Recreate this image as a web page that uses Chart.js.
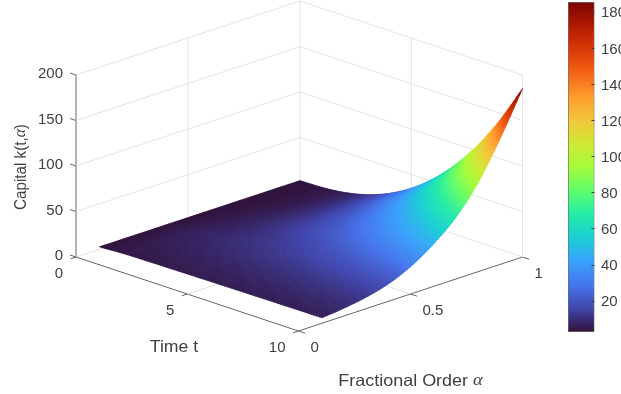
<!DOCTYPE html>
<html><head><meta charset="utf-8">
<script src="https://cdn.jsdelivr.net/npm/chart.js@4"></script>
<style>html,body{margin:0;padding:0;background:#fff;width:621px;height:394px;overflow:hidden}
canvas{position:absolute;top:0;filter:blur(0.35px)}
#main{left:0}#bar{left:541px}</style></head>
<body><canvas id="main" width="621" height="394"></canvas><canvas id="bar" width="80" height="394"></canvas>
<script>
const timeValues = [0,1,2,3,4,5,6,7,8,9,10];
const alphaValues = [0.105,0.2,0.3,0.4,0.5,0.6,0.7,0.8,0.9,1.0];
const capital01 = [2.6,3.95,4.39,4.70,4.96,5.18,5.37,5.55,5.71,5.86,6.0];
const capital02 = [2.6,4.69,5.46,6.03,6.51,6.92,7.29,7.63,7.93,8.23,8.5];
const capital03 = [2.6,5.39,6.68,7.71,8.58,9.36,10.07,10.74,11.35,11.95,12.5];
const capital04 = [2.6,5.52,7.5,9.24,10.85,12.36,13.78,15.15,16.47,17.75,19];
const capital05 = [2.6,4.76,7.26,9.89,12.6,15.4,18.2,21.1,24.0,27.0,30];
const capital06 = [2.6,4.34,7.16,10.6,14.6,19.05,23.8,29,34.4,40.1,46];
const capital07 = [2.6,3.9,6.8,10.9,16.2,22.4,29.6,37.7,46.6,56.4,67];
const capital08 = [2.6,3.5,6.4,11.1,17.7,26.2,36.6,48.9,63,79,97];
const capital09 = [2.6,3.4,6.2,11.6,19.8,31,45.5,63.3,84.5,109.4,138];
const capital10 = [2.6,3.2,5.9,11.6,21.1,34.9,53.5,77.4,107,142.8,185];
const capitalRows = [capital01,capital02,capital03,capital04,capital05,capital06,capital07,capital08,capital09,capital10];
const tTicks = [0,5,10];
const alphaTicks = [0,0.5,1];
const kTicks = [0,50,100,150,200];
const colorTicks = [20,40,60,80,100,120,140,160,180];
const colorMin = 2.65, colorMax = 185.4;
const turboStops = ['#30123b','#4145ab','#4675ed','#39a2fc','#1bcfd4','#24eca6','#61fc6c','#a4fc3b','#d1e834','#f3c63a','#fe9b2d','#f36315','#d93806','#b11901','#7a0402'];

// orthographic view of (t, alpha, k)
function project(t,a,k){return {x:76+22.25*t+224*a, y:257+7.4*t-74*a-0.91*k};}
const turboRGB=turboStops.map(h=>[1,3,5].map(i=>parseInt(h.substr(i,2),16)));
function turbo(u){
  u=Math.max(0,Math.min(1,u))*(turboRGB.length-1);
  const i=Math.min(Math.floor(u),turboRGB.length-2),f=u-i,a=turboRGB[i],b=turboRGB[i+1];
  return `rgb(${[0,1,2].map(c=>Math.round(a[c]+(b[c]-a[c])*f)).join(',')})`;
}
const toU=v=>(v-colorMin)/(colorMax-colorMin);
const GRID='#e3e3e3', AXIS='#666666', TXT='#404040';
const ds=[];
function seg(a,b,color,w){ds.push({data:[project(...a),project(...b)],showLine:true,pointRadius:0,borderColor:color,borderWidth:w||1,fill:false});}
// walls and floor
kTicks.forEach(k=>{seg([0,0,k],[0,1,k],GRID);seg([0,1,k],[10,1,k],GRID);});
alphaTicks.slice(1).forEach(a=>seg([0,a,0],[0,a,200],GRID));
tTicks.slice(1).forEach(t=>seg([t,1,0],[t,1,200],GRID));
tTicks.slice(1,2).forEach(t=>seg([t,0,0],[t,1,0],GRID));
alphaTicks.slice(1,2).forEach(a=>seg([0,a,0],[10,a,0],GRID));
// axes
seg([0,0,0],[10,0,0],AXIS);seg([10,0,0],[10,1,0],AXIS);seg([0,0,0],[0,0,200],AXIS);
kTicks.forEach(k=>seg([0,0,k],[-0.27,0,k],AXIS));
tTicks.forEach(t=>seg([t,0,0],[t,-0.024,0],AXIS));
alphaTicks.forEach(a=>seg([10,a,0],[10.3,a,0],AXIS));
// surface rows
alphaValues.forEach((a,i)=>ds.push({data:timeValues.map((t,j)=>project(t,a,capitalRows[i][j])),showLine:false,pointRadius:0}));

// smooth shading of the mesh when it is painted (like MATLAB's interpolated shading)
function hermite(arr,i,u){
  const n=arr.length,p0=arr[i],p1=arr[Math.min(i+1,n-1)];
  const m0=i>0?(p1-arr[i-1])/2:(p1-p0),m1=i+2<n?(arr[i+2]-p0)/2:(p1-p0);
  const u2=u*u,u3=u2*u;
  return (2*u3-3*u2+1)*p0+(u3-2*u2+u)*m0+(-2*u3+3*u2)*p1+(u3-u2)*m1;
}
const SUB=8;
function resample(arr){const out=[];for(let i=0;i<arr.length-1;i++)for(let s=0;s<SUB;s++)out.push(hermite(arr,i,s/SUB));out.push(arr[arr.length-1]);return out;}
const surfacePlugin={id:'surface',afterDatasetsDraw(chart){
  const ctx=chart.ctx,sx=chart.scales.x,sy=chart.scales.y;
  const T=resample(timeValues),A=resample(alphaValues);
  const byT=capitalRows.map(resample);
  const Z=A.map(()=>[]);
  T.forEach((_,j)=>{const col=resample(byT.map(r=>r[j]));col.forEach((v,i)=>{Z[i][j]=v;});});
  const P=A.map((a,i)=>T.map((t,j)=>{const p=project(t,a,Z[i][j]);return {x:sx.getPixelForValue(p.x),y:sy.getPixelForValue(p.y)};}));
  ctx.save();ctx.lineWidth=0.8;ctx.lineJoin='round';
  for(let i=A.length-2;i>=0;i--)for(let j=0;j<T.length-1;j++){
    const c=turbo(toU((Z[i][j]+Z[i][j+1]+Z[i+1][j]+Z[i+1][j+1])/4));
    ctx.fillStyle=c;ctx.strokeStyle=c;ctx.beginPath();
    ctx.moveTo(P[i][j].x,P[i][j].y);ctx.lineTo(P[i][j+1].x,P[i][j+1].y);
    ctx.lineTo(P[i+1][j+1].x,P[i+1][j+1].y);ctx.lineTo(P[i+1][j].x,P[i+1][j].y);ctx.closePath();
    ctx.fill();ctx.stroke();
  }
  ctx.restore();
  drawText(chart);
}};
function runs(ctx,parts,x,y,scaleAlong){
  let w=0;parts.forEach(p=>{ctx.font=p[1];w+=ctx.measureText(p[0]).width;});
  ctx.save();ctx.translate(x,y);ctx.scale(scaleAlong,1);
  let cx=-w/2;
  parts.forEach(p=>{ctx.font=p[1];ctx.textAlign='left';ctx.fillText(p[0],cx,0);cx+=ctx.measureText(p[0]).width;});
  ctx.restore();
}
function drawText(chart){
  const ctx=chart.ctx,sx=chart.scales.x,sy=chart.scales.y;
  const px=(t,a,k)=>{const p=project(t,a,k);return {x:sx.getPixelForValue(p.x),y:sy.getPixelForValue(p.y)};};
  ctx.save();ctx.fillStyle=TXT;ctx.textBaseline='middle';
  const F="15px 'Liberation Sans'",L="16.5px 'Liberation Sans'",G="italic 17px 'Liberation Serif'";
  ctx.font=F;ctx.textAlign='right';
  kTicks.forEach(k=>{const p=px(0,0,k);ctx.fillText(String(k),p.x-13,p.y-1);});
  tTicks.forEach(t=>{const p=px(t,0,0);ctx.fillText(String(t),p.x-13,p.y+16.5);});
  ctx.textAlign='left';
  alphaTicks.forEach(a=>{const p=px(10,a,0);ctx.fillText(String(a),p.x+12,p.y+16.5);});
  runs(ctx,[['Time t',L]],174,347,1.07);
  runs(ctx,[['Fractional Order ',L],['α',G]],410.5,381,1.09);
  ctx.translate(21,167);ctx.rotate(-Math.PI/2);
  runs(ctx,[['Capital k(t,',L],['α',G],[')',L]],0,0,0.92);
  ctx.restore();
}
new Chart(document.getElementById('main'),{
  type:'scatter',data:{datasets:ds},plugins:[surfacePlugin],
  options:{responsive:false,animation:false,layout:{padding:0},
    plugins:{legend:{display:false},tooltip:{enabled:false}},
    scales:{x:{type:'linear',display:false,min:0,max:621},y:{type:'linear',display:false,min:0,max:394,reverse:true}}}
});
new Chart(document.getElementById('bar'),{
  type:'bar',
  data:{labels:['k'],datasets:[{data:[[colorMin,colorMax]],categoryPercentage:1,barPercentage:1,borderColor:'#6e6e6e',borderWidth:1,borderSkipped:false,
    backgroundColor(c){const a=c.chart.chartArea;if(!a)return '#000';
      const g=c.chart.ctx.createLinearGradient(0,a.bottom,0,a.top);
      for(let s=0;s<=64;s++)g.addColorStop(s/64,turbo(s/64));return g;}}]},
  options:{responsive:false,animation:false,layout:{padding:{left:27,top:2,bottom:62,right:0}},
    plugins:{legend:{display:false},tooltip:{enabled:false}},
    scales:{x:{display:false},
      y:{position:'right',min:colorMin,max:colorMax,
        afterBuildTicks(s){s.ticks=colorTicks.map(v=>({value:v}));},
        afterFit(s){s.width=26.5;s.paddingTop=0;s.paddingBottom=0;},
        grid:{drawOnChartArea:false,drawTicks:false},
        border:{display:false},
        ticks:{display:false}}}},
  plugins:[{id:'innerTicks',afterDraw(chart){
    const ctx=chart.ctx,s=chart.scales.y,a=chart.chartArea;
    ctx.save();ctx.strokeStyle='#404040';ctx.lineWidth=1;ctx.fillStyle=TXT;
    ctx.font="15px 'Liberation Sans'";ctx.textAlign='left';ctx.textBaseline='middle';
    colorTicks.forEach(v=>{const py=s.getPixelForValue(v),y=Math.round(py)+0.5;
      ctx.beginPath();ctx.moveTo(a.right,y);ctx.lineTo(a.right-3,y);ctx.stroke();
      ctx.fillText(String(v),a.right+6.5,py+1.5);});
    ctx.restore();
  }}]
});
</script></body></html>
